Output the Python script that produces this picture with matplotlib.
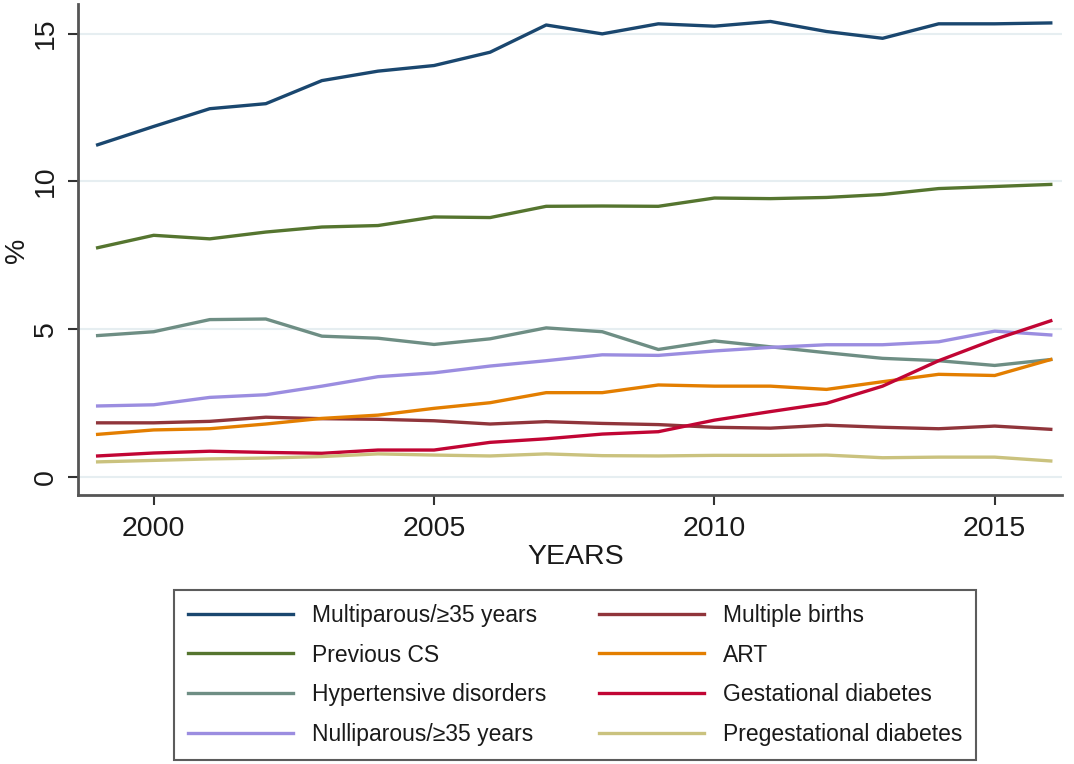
import matplotlib
matplotlib.use("Agg")
import matplotlib.pyplot as plt

plt.rcParams['font.family'] = ['Liberation Sans', 'DejaVu Sans']

years = list(range(1999, 2017))

multiparous_35 = [11.24, 11.86, 12.46, 12.63, 13.41, 13.73, 13.92, 14.37, 15.29,
                  14.99, 15.33, 15.25, 15.41, 15.07, 14.84, 15.33, 15.33, 15.36]
previous_cs = [7.76, 8.18, 8.06, 8.29, 8.46, 8.51, 8.80, 8.78, 9.16,
               9.17, 9.16, 9.44, 9.42, 9.46, 9.56, 9.76, 9.83, 9.90]
hypertensive = [4.79, 4.92, 5.33, 5.35, 4.77, 4.70, 4.49, 4.68, 5.05,
                4.92, 4.32, 4.61, 4.41, 4.21, 4.02, 3.94, 3.78, 3.98]
nulliparous_35 = [2.41, 2.45, 2.70, 2.79, 3.08, 3.40, 3.53, 3.76, 3.94,
                  4.14, 4.12, 4.27, 4.39, 4.48, 4.48, 4.58, 4.94, 4.81]
multiple_births = [1.84, 1.84, 1.89, 2.03, 1.98, 1.96, 1.91, 1.80, 1.88,
                   1.82, 1.78, 1.69, 1.66, 1.76, 1.69, 1.64, 1.73, 1.62]
art = [1.45, 1.60, 1.64, 1.80, 1.99, 2.10, 2.33, 2.52, 2.86,
       2.86, 3.12, 3.08, 3.08, 2.97, 3.23, 3.48, 3.44, 3.98]
gestational_diabetes = [0.72, 0.82, 0.88, 0.84, 0.81, 0.92, 0.92, 1.18, 1.30,
                        1.46, 1.54, 1.93, 2.22, 2.50, 3.08, 3.94, 4.66, 5.29]
pregestational_diabetes = [0.52, 0.57, 0.62, 0.65, 0.70, 0.79, 0.75, 0.72, 0.79,
                           0.73, 0.72, 0.74, 0.74, 0.75, 0.66, 0.68, 0.68, 0.55]

labels = ["Multiparous/\u226535 years", "Previous CS", "Hypertensive disorders",
          "Nulliparous/\u226535 years", "Multiple births", "ART",
          "Gestational diabetes", "Pregestational diabetes"]
series = [multiparous_35, previous_cs, hypertensive, nulliparous_35,
          multiple_births, art, gestational_diabetes, pregestational_diabetes]
colors = ["#1a476f", "#55752f", "#6e8e84", "#9b8de0",
          "#90353b", "#e37e00", "#c10534", "#cac27e"]

yticks = [0, 5, 10, 15]
xticks = [2000, 2005, 2010, 2015]

fig = plt.figure(figsize=(10.74, 7.64), dpi=100)
ax = fig.add_axes([78/1074, 1-495/764, (1062-78)/1074, (495-4)/764])

for vals, lab, c in zip(series, labels, colors):
    ax.plot(years, vals, color=c, lw=2.4, label=lab, solid_joinstyle='round')

ax.set_xlim(1998.65, 2016.2)
ax.set_ylim(-0.6, 16.0)
ax.set_yticks(yticks)
ax.set_xticks(xticks)
ax.set_yticklabels([str(v) for v in yticks], rotation=90, va='center', fontsize=20.5, color='#1a1a1a')
ax.set_xticklabels([str(v) for v in xticks], fontsize=20.5, color='#1a1a1a')
ax.grid(axis='y', color='#e6eef1', lw=1.5)
ax.set_axisbelow(True)
for s in ['top', 'right']:
    ax.spines[s].set_visible(False)
for s in ['left', 'bottom']:
    ax.spines[s].set_color('#555555')
    ax.spines[s].set_linewidth(2)
ax.tick_params(axis='y', length=7, width=1.5, color='#333333', pad=7)
ax.tick_params(axis='x', length=7, width=1.5, color='#333333', pad=8)
ax.set_xlabel("YEARS", fontsize=20.5, color='#1a1a1a')
ax.xaxis.set_label_coords((576-78)/984, -(557-495)/491, transform=ax.transAxes)
ax.xaxis.label.set_va('center')
ax.set_ylabel("%", fontsize=20.5, color='#1a1a1a')
ax.yaxis.set_label_coords(-(78-17)/984, (495-250)/491, transform=ax.transAxes)
ax.yaxis.label.set_va('center')

handles, labs = ax.get_legend_handles_labels()
leg = fig.legend(handles, labs, ncol=2, loc='center',
                 bbox_to_anchor=((172+978)/2/1074, 1-675/764),
                 fontsize=16.5, frameon=True, fancybox=False, edgecolor='#333333',
                 handlelength=4.6, handletextpad=0.8, columnspacing=2.3,
                 labelspacing=0.74, borderpad=0.6)
leg.get_frame().set_linewidth(1.5)
for t in leg.get_texts():
    t.set_color('#1a1a1a')

fig.savefig("out.png", dpi=100, facecolor='white')
